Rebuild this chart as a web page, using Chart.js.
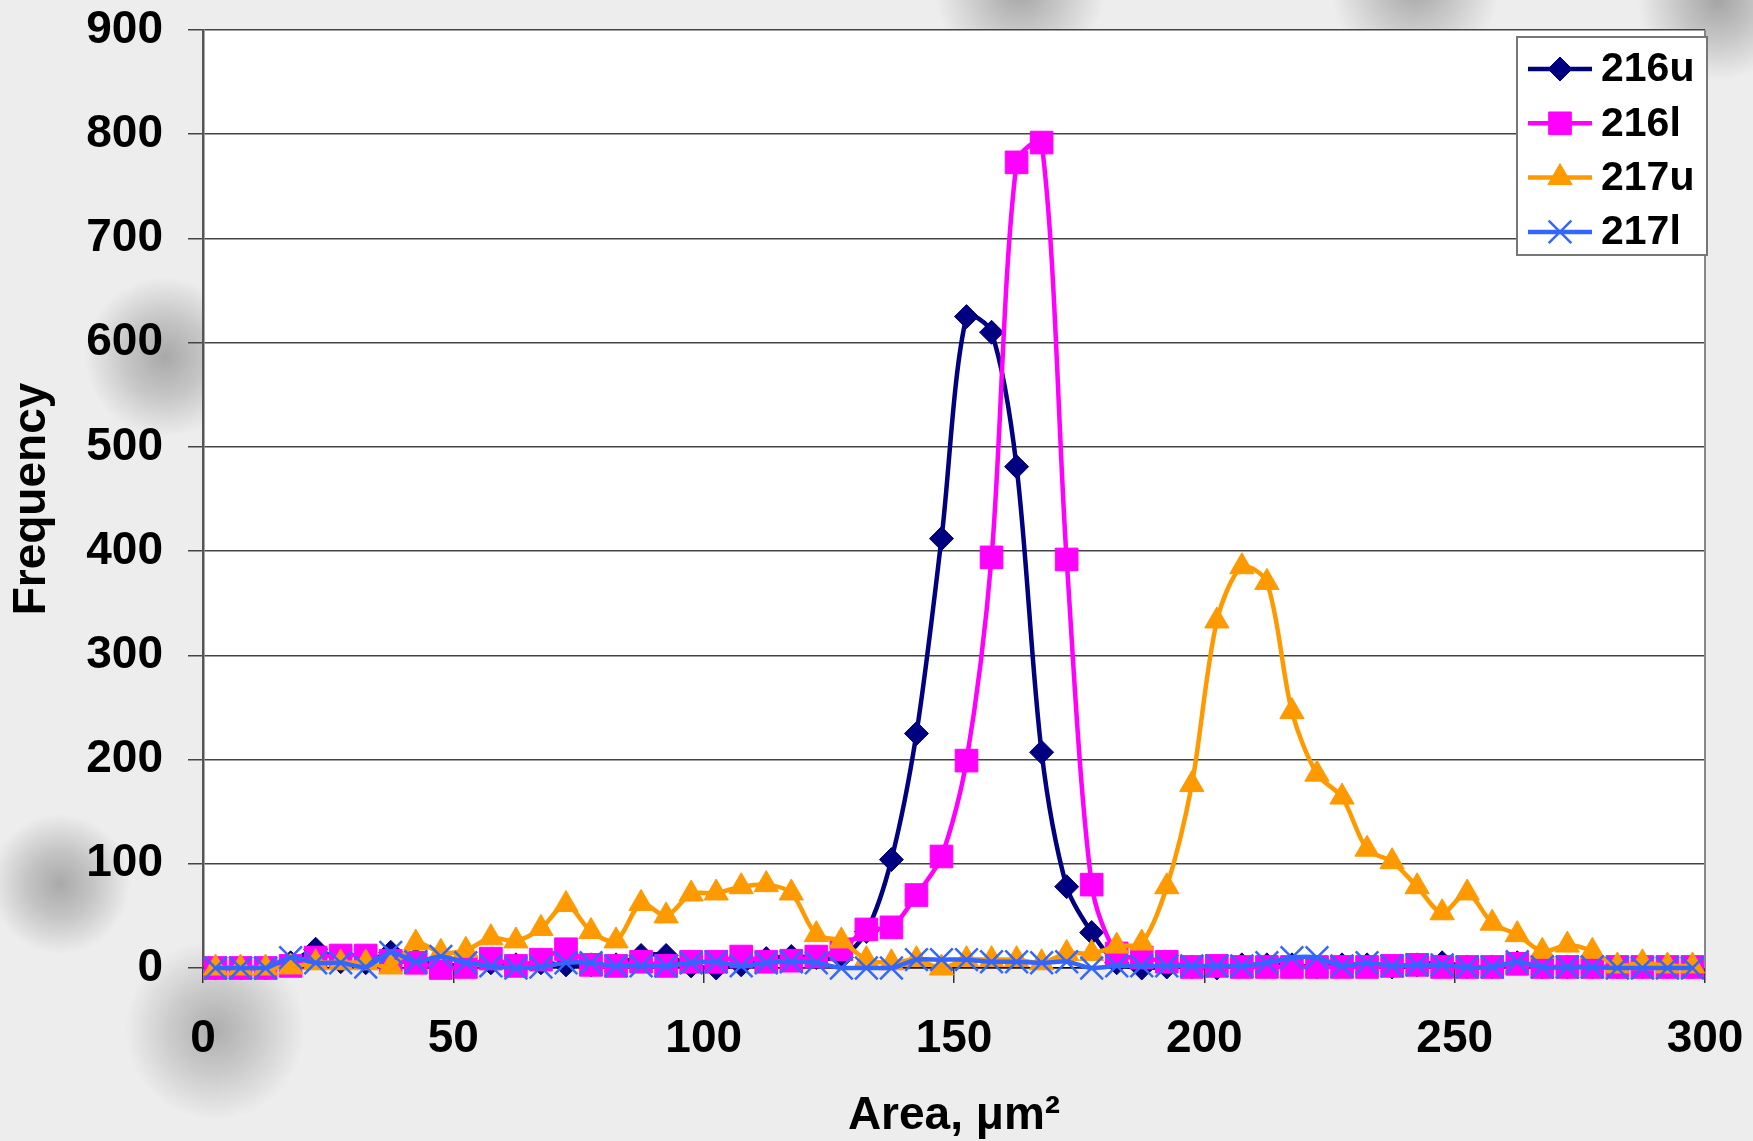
<!DOCTYPE html>
<html>
<head>
<meta charset="utf-8">
<script src="https://cdn.jsdelivr.net/npm/chart.js@4.4.1/dist/chart.umd.min.js"></script>
<style>
  html, body { margin: 0; padding: 0; overflow: hidden; }
  body {
    width: 1753px; height: 1141px;
    background-color: #ededed;
    background-image:
      radial-gradient(circle at 1020px -10px, rgba(140,140,140,0.75) 0, rgba(140,140,140,0.4) 40px, rgba(140,140,140,0) 85px),
      radial-gradient(circle at 1415px -15px, rgba(140,140,140,0.75) 0, rgba(140,140,140,0.4) 40px, rgba(140,140,140,0) 85px),
      radial-gradient(circle at 1718px 0px, rgba(140,140,140,0.75) 0, rgba(140,140,140,0.4) 40px, rgba(140,140,140,0) 80px),
      radial-gradient(circle at 165px 357px, rgba(140,140,140,0.7) 0, rgba(140,140,140,0.4) 40px, rgba(140,140,140,0) 80px),
      radial-gradient(circle at 60px 884px, rgba(140,140,140,0.7) 0, rgba(140,140,140,0.4) 35px, rgba(140,140,140,0) 70px),
      radial-gradient(circle at 215px 1030px, rgba(140,140,140,0.65) 0, rgba(140,140,140,0.35) 45px, rgba(140,140,140,0) 90px);
  }
  #wrap { position: absolute; left: 0; top: 0; width: 1753px; height: 1141px; }
</style>
</head>
<body>
<div id="wrap"><canvas id="chart" width="1753" height="1141"></canvas></div>
<script>
// bin centres (Area, um^2)
const areaBins = [
  2.5, 7.5, 12.5, 17.5, 22.5, 27.5, 32.5, 37.5, 42.5, 47.5,
  52.5, 57.5, 62.5, 67.5, 72.5, 77.5, 82.5, 87.5, 92.5, 97.5,
  102.5, 107.5, 112.5, 117.5, 122.5, 127.5, 132.5, 137.5, 142.5, 147.5,
  152.5, 157.5, 162.5, 167.5, 172.5, 177.5, 182.5, 187.5, 192.5, 197.5,
  202.5, 207.5, 212.5, 217.5, 222.5, 227.5, 232.5, 237.5, 242.5, 247.5,
  252.5, 257.5, 262.5, 267.5, 272.5, 277.5, 282.5, 287.5, 292.5, 297.5
];

const freq216u = [
  0, 0, 0, 5, 18, 6, 5, 15, 8, 3,
  3, 5, 3, 5, 3, 3, 3, 12, 12, 2,
  0, 3, 9, 11, 10, 10, 35, 104, 225, 412,
  625, 610, 481, 207, 78, 34, 5, 0, 1, 1,
  0, 3, 3, 3, 1, 3, 3, 1, 3, 5,
  1, 1, 5, 1, 1, 1, 1, 1, 1, 1
];

const freq216l = [
  0, 0, 0, 2, 10, 12, 12, 7, 5, 0,
  1, 9, 2, 8, 18, 3, 2, 6, 2, 6,
  6, 11, 6, 7, 11, 18, 37, 39, 70, 107,
  199, 394, 773, 792, 392, 80, 14, 10, 6, 1,
  2, 1, 1, 1, 1, 1, 1, 2, 3, 1,
  1, 1, 4, 1, 1, 1, 1, 1, 1, 1
];

const freq217u = [
  0, 0, 0, 1, 5, 5, 5, 1, 24, 15,
  17, 29, 26, 38, 61, 35, 26, 62, 50, 71,
  72, 78, 80, 72, 32, 26, 8, 5, 8, 0,
  8, 8, 8, 5, 14, 14, 21, 24, 78, 176,
  333, 385, 370, 246, 186, 164, 114, 102, 78, 53,
  72, 43, 32, 16, 22, 16, 2, 5, 2, 2
];

const freq217l = [
  0, 0, 0, 10, 5, 5, 1, 15, 6, 11,
  5, 2, 0, 1, 5, 5, 2, 2, 2, 5,
  6, 2, 5, 6, 5, 0, 0, 0, 8, 8,
  8, 6, 6, 5, 6, 0, 2, 2, 2, 2,
  2, 2, 5, 10, 10, 2, 5, 2, 3, 3,
  1, 1, 6, 1, 1, 1, 0, 0, 0, 0
];

const seriesNames = ['216u', '216l', '217u', '217l'];
const seriesColors = ['#000080', '#ff00ff', '#ff9900', '#3366ff'];
const seriesValues = [freq216u, freq216l, freq217u, freq217l];

const FONT = '"Liberation Sans", Arial, sans-serif';

function makeSet(i, style, radius, borderWidth) {
  return {
    label: seriesNames[i],
    data: areaBins.map((x, k) => ({ x: x, y: seriesValues[i][k] })),
    borderColor: seriesColors[i],
    backgroundColor: seriesColors[i],
    borderWidth: 4.5,
    tension: 0.3,
    pointStyle: style,
    pointRadius: radius,
    pointHoverRadius: radius,
    pointBackgroundColor: seriesColors[i],
    pointBorderColor: seriesColors[i],
    pointBorderWidth: borderWidth,
    clip: false,
    order: 4 - i   // later series drawn on top, like the original
  };
}

// keep the plot box exactly where the layout padding puts it
function noScalePadding(scale) {
  scale.paddingTop = 0;
  scale.paddingBottom = 0;
  scale.paddingLeft = 0;
  scale.paddingRight = 0;
}

// white plot area + right border
const plotFrame = {
  id: 'plotFrame',
  beforeDraw(chart) {
    const { left, top, right, bottom } = chart.chartArea;
    const ctx = chart.ctx;
    ctx.save();
    ctx.fillStyle = '#ffffff';
    ctx.fillRect(left, top, right - left, bottom - top);
    ctx.restore();
  },
  afterDraw(chart) {
    const { top, right, bottom } = chart.chartArea;
    const ctx = chart.ctx;
    ctx.save();
    ctx.strokeStyle = '#888888';
    ctx.lineWidth = 2;
    ctx.beginPath();
    ctx.moveTo(right, top);
    ctx.lineTo(right, bottom);
    ctx.stroke();
    ctx.restore();
  }
};

// boxed legend in the top right corner of the plot
const boxLegend = {
  id: 'boxLegend',
  afterDraw(chart) {
    const ctx = chart.ctx;
    const { right, top } = chart.chartArea;
    const x0 = right - 188, y0 = top + 7, w = 190, h = 218;
    ctx.save();
    ctx.fillStyle = '#ffffff';
    ctx.fillRect(x0, y0, w, h);
    ctx.strokeStyle = '#777777';
    ctx.lineWidth = 2;
    ctx.strokeRect(x0, y0, w, h);
    chart.data.datasets.forEach((ds, i) => {
      const y = y0 + 32 + i * 54.3;
      ctx.strokeStyle = ds.borderColor;
      ctx.lineWidth = 4.5;
      ctx.beginPath();
      ctx.moveTo(x0 + 11, y);
      ctx.lineTo(x0 + 75, y);
      ctx.stroke();
      ctx.fillStyle = ds.pointBackgroundColor;
      ctx.strokeStyle = ds.pointBorderColor;
      ctx.lineWidth = ds.pointBorderWidth;
      Chart.helpers.drawPoint(ctx, {
        pointStyle: ds.pointStyle, radius: ds.pointRadius,
        borderWidth: ds.pointBorderWidth, rotation: 0
      }, x0 + 43, y);
      ctx.fillStyle = '#000000';
      ctx.font = 'bold 41px ' + FONT;
      ctx.textAlign = 'left';
      ctx.textBaseline = 'middle';
      ctx.fillText(ds.label, x0 + 84, y + 1);
    });
    ctx.restore();
  }
};

new Chart(document.getElementById('chart'), {
  type: 'line',
  data: {
    datasets: [
      makeSet(0, 'rectRot', 12, 1),
      makeSet(1, 'rect', 16, 1),
      makeSet(2, 'triangle', 14, 1),
      makeSet(3, 'crossRot', 16, 2.5)
    ]
  },
  options: {
    responsive: false,
    animation: false,
    layout: { padding: { top: 30, right: 48, left: 0, bottom: 0 } },
    plugins: {
      legend: { display: false },
      tooltip: { enabled: false }
    },
    scales: {
      x: {
        type: 'linear',
        min: 0,
        max: 300,
        afterFit(scale) { scale.height = 173; noScalePadding(scale); },
        ticks: {
          stepSize: 50,
          color: '#000',
          padding: 29,
          maxRotation: 0,
          font: { family: FONT, size: 46, weight: 'bold' }
        },
        grid: {
          drawOnChartArea: false,
          drawTicks: true,
          tickLength: 15,
          color: '#333',
          lineWidth: 1.5
        },
        border: { display: true, color: '#000', width: 1.5 },
        title: {
          display: true,
          text: 'Area, \u03bcm\u00b2',
          color: '#000',
          padding: { top: 0, bottom: 2 },
          font: { family: FONT, size: 46, weight: 'bold', lineHeight: 1.0 }
        }
      },
      y: {
        min: 0,
        max: 900,
        afterFit(scale) { scale.width = 203; noScalePadding(scale); },
        ticks: {
          stepSize: 100,
          color: '#000',
          padding: 25,
          font: { family: FONT, size: 46, weight: 'bold' }
        },
        grid: {
          drawTicks: true,
          tickLength: 15,
          color: '#444',
          lineWidth: 1.5
        },
        border: { display: true, color: '#555', width: 2.5 },
        title: {
          display: true,
          text: 'Frequency',
          color: '#000',
          padding: { top: 5, bottom: 0 },
          font: { family: FONT, size: 46, weight: 'bold' }
        }
      }
    }
  },
  plugins: [plotFrame, boxLegend]
});
</script>
</body>
</html>
